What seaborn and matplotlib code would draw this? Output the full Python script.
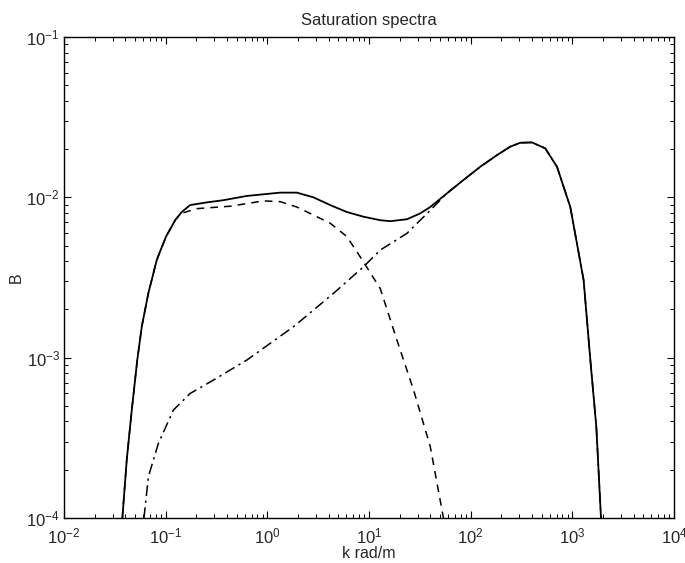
import numpy as np
import matplotlib
matplotlib.use("Agg")
import matplotlib.pyplot as plt
import matplotlib.ticker as mticker
import seaborn as sns

# Datos (k en rad/m, B adimensional)
k_total = [0.0375, 0.0414, 0.0464, 0.0526, 0.0582, 0.0676, 0.0817, 0.0867, 0.101,
           0.124, 0.144, 0.174, 0.254, 0.37, 0.628, 1.34, 1.95, 2.84, 4.15, 6.05,
           8.83, 12.9, 16.2, 23.6, 31.9, 40.0, 58.5, 84.6, 124, 183, 245, 308,
           401, 542, 707, 955, 1291, 1503, 1722, 1914]
B_total = [1.0e-4, 2.3e-4, 4.7e-4, 9.7e-4, 1.56e-3, 2.53e-3, 4.06e-3, 4.48e-3, 5.7e-3,
           7.2e-3, 8.1e-3, 8.95e-3, 9.3e-3, 9.6e-3, 1.02e-2, 1.07e-2, 1.07e-2, 1.0e-2,
           8.95e-3, 8.1e-3, 7.57e-3, 7.2e-3, 7.1e-3, 7.3e-3, 7.94e-3, 8.7e-3, 1.06e-2,
           1.28e-2, 1.55e-2, 1.84e-2, 2.07e-2, 2.19e-2, 2.2e-2, 2.02e-2, 1.55e-2,
           8.7e-3, 3.05e-3, 9.7e-4, 3.7e-4, 1.0e-4]

k_long = [0.0375, 0.0414, 0.0464, 0.0526, 0.0582, 0.0676, 0.0817, 0.0867, 0.101,
          0.124, 0.139, 0.202, 0.43, 0.916, 1.34, 1.95, 4.15, 6.05, 8.18, 12.9,
          18.8, 27.4, 40.0, 54.0]
B_long = [1.0e-4, 2.3e-4, 4.7e-4, 9.7e-4, 1.56e-3, 2.53e-3, 4.06e-3, 4.48e-3, 5.7e-3,
          7.2e-3, 7.9e-3, 8.5e-3, 8.8e-3, 9.5e-3, 9.4e-3, 8.7e-3, 6.9e-3, 5.7e-3,
          4.26e-3, 2.7e-3, 1.29e-3, 6.3e-4, 2.8e-4, 1.0e-4]

k_short = [0.0612, 0.0676, 0.0848, 0.119, 0.174, 0.295, 0.628, 1.81, 4.48, 8.83,
           12.9, 23.6, 41.6, 58.5, 84.6, 124, 183, 245, 308, 401, 542, 707, 955,
           1291, 1503, 1722, 1914]
B_short = [1.0e-4, 1.81e-4, 2.92e-4, 4.71e-4, 5.98e-4, 7.25e-4, 9.66e-4, 1.56e-3,
           2.52e-3, 3.69e-3, 4.69e-3, 5.96e-3, 8.5e-3, 1.06e-2, 1.28e-2, 1.55e-2,
           1.84e-2, 2.07e-2, 2.19e-2, 2.2e-2, 2.02e-2, 1.55e-2, 8.7e-3, 3.05e-3,
           9.7e-4, 3.7e-4, 1.0e-4]

sns.set_style("ticks")
plt.rcParams["font.family"] = ["Liberation Sans", "DejaVu Sans"]
plt.rcParams["xtick.direction"] = "in"
plt.rcParams["ytick.direction"] = "in"

fig = plt.figure(figsize=(6.85, 5.63), dpi=100)
ax = fig.add_axes([64 / 685, 45 / 563, 610 / 685, 481 / 563])

# Curvas: corta (punto-raya), larga (rayas), total (continua)
sns.lineplot(x=k_short, y=B_short, ax=ax, color="black", linewidth=1.1,
             linestyle=(0, (7, 3, 1.5, 3)), sort=False)
sns.lineplot(x=k_long, y=B_long, ax=ax, color="black", linewidth=1.1,
             linestyle=(0, (5, 4)), sort=False)
sns.lineplot(x=k_total, y=B_total, ax=ax, color="black", linewidth=1.3, sort=False)

ax.set_xscale("log")
ax.set_yscale("log")
ax.set_xlim(1e-2, 1e4)
ax.set_ylim(1e-4, 1e-1)

ax.xaxis.set_major_locator(mticker.LogLocator(base=10, numticks=10))
ax.yaxis.set_major_locator(mticker.LogLocator(base=10, numticks=10))
ax.xaxis.set_minor_locator(mticker.LogLocator(base=10, subs=np.arange(2, 10), numticks=20))
ax.yaxis.set_minor_locator(mticker.LogLocator(base=10, subs=np.arange(2, 10), numticks=20))
ax.xaxis.set_minor_formatter(mticker.NullFormatter())
ax.yaxis.set_minor_formatter(mticker.NullFormatter())

ax.tick_params(which="both", top=True, right=True, labelsize=12, color="black")
ax.tick_params(which="major", length=5, width=0.8)
ax.tick_params(which="minor", length=3, width=0.7)
ax.tick_params(axis="x", which="major", pad=6)
ax.tick_params(axis="y", which="major", pad=3)
for s in ax.spines.values():
    s.set_color("black")
    s.set_linewidth(1.0)

ax.set_title("Saturation spectra", fontsize=12, pad=9)
ax.set_xlabel("k rad/m", fontsize=11.5, labelpad=0)
ax.set_ylabel("B", fontsize=11.5, labelpad=2)

fig.savefig("out.png", dpi=100)
